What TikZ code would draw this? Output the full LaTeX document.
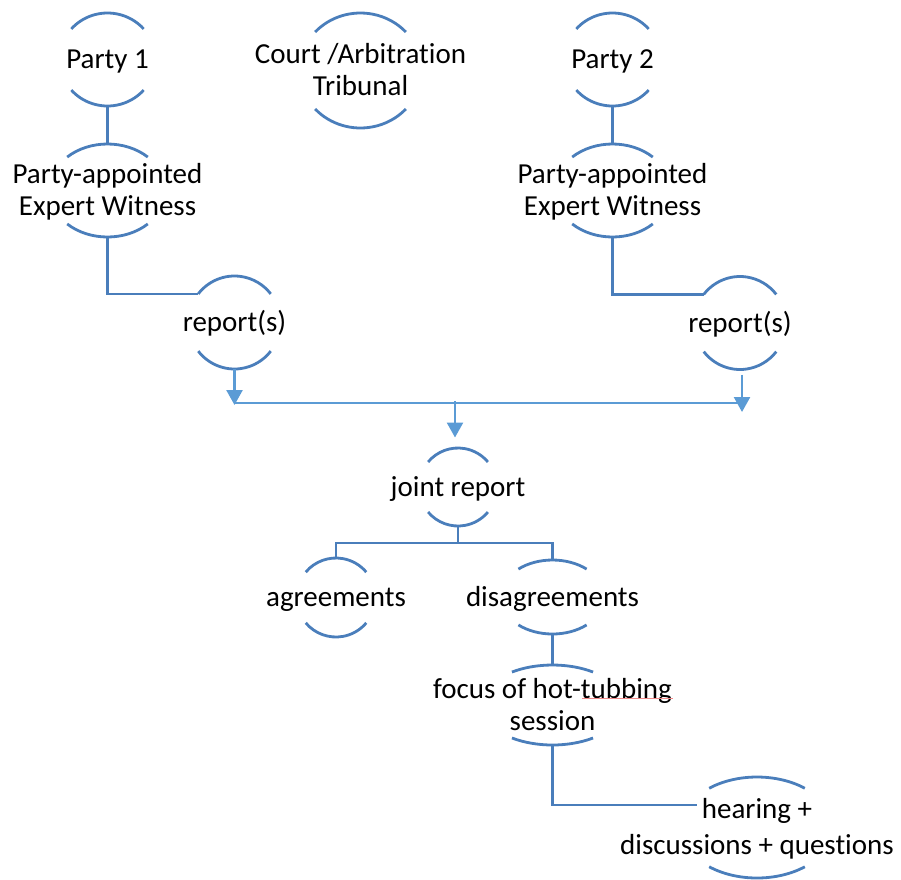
\documentclass[tikz,border=0pt]{standalone}
\usepackage{fontspec}
\setmainfont{Carlito}[Ligatures=NoCommon]
\usetikzlibrary{arrows.meta}
\definecolor{arcblue}{HTML}{4A7EBB}
\definecolor{flowblue}{HTML}{5B9BD5}
\definecolor{spellred}{HTML}{F08A8A}
% strut with height 24.5pt and depth 6pt, so the cap height sits centred on the node
\newcommand\lstrut{\rule[-6pt]{0pt}{30.5pt}}
\tikzset{
  hubtext/.style={inner sep=0pt, align=center, font=\fontsize{29}{32}\selectfont},
  hubarc/.style={draw=arcblue, line width=2.8pt},
  link/.style={draw=arcblue, line width=2.6pt},
  flow/.style={draw=flowblue, line width=2.5pt, -{Triangle[width=16pt,length=15pt]}},
  bus/.style={draw=flowblue, line width=1.6pt},
}
% [#1 text options] #2 name, #3 x, #4 y (downwards), #5 x radius, #6 y radius,
% #7 half opening angle of the arcs, #8 text
\newcommand\hubnode[8][]{%
  \node[hubtext,#1] (#2) at (#3,-#4) {#8};
  \coordinate (#2-top) at (#3,{-#4+#6});
  \coordinate (#2-bot) at (#3,{-#4-#6});
  \coordinate (#2-tl) at ({#3-#5*cos(#7)},{-#4+#6*sin(#7)});
  \draw[hubarc] (#2-tl) arc[start angle={180-#7}, end angle={#7}, x radius=#5, y radius=#6];
  \draw[hubarc] ({#3-#5*cos(#7)},{-#4-#6*sin(#7)}) arc[start angle={180+#7}, end angle={360-#7}, x radius=#5, y radius=#6];
}
\begin{document}
\begin{tikzpicture}[x=1pt,y=1pt]
  \useasboundingbox (0,0) rectangle (901,-879);

  % parties, tribunal and experts
  \hubnode{p1}{107.5}{59.5}{48}{46.5}{41}{\lstrut Party 1}
  \hubnode{court}{360.5}{70.5}{61}{57.5}{42}{\lstrut Court /Arbitration\\\lstrut Tribunal}
  \hubnode{p2}{612.5}{59.5}{48}{46.5}{41}{\lstrut Party 2}
  \hubnode{ew1}{107.5}{190.5}{58}{46.5}{46}{\lstrut Party-appointed\\\lstrut Expert Witness}
  \hubnode{ew2}{612.5}{190.5}{58}{46.5}{46}{\lstrut Party-appointed\\\lstrut Expert Witness}

  % reports
  \hubnode{rep1}{234.5}{322.5}{46}{46.5}{38}{\lstrut report(s)}
  \hubnode{rep2}{740}{323}{46}{46.5}{38}{\lstrut report(s)}

  % joint report and its outcome
  \hubnode{joint}{458}{487}{39}{39}{40}{\lstrut joint report}
  \hubnode{agr}{336}{597.5}{39.5}{39.5}{40}{\lstrut agreements}
  \hubnode{dis}{552.5}{597}{52}{37}{49}{\lstrut disagreements}
  \hubnode{focus}{552.5}{705}{71.6}{40}{55.5}{\lstrut focus of hot-tubbing\\\lstrut session}
  \hubnode[font=\fontsize{29}{36}\selectfont]{hear}{757}{827.5}{76}{50.5}{51}{\lstrut hearing +\\\lstrut discussions + questions}

  % tree connectors
  \draw[link] (p1-bot) -- (ew1-top);
  \draw[link] (p2-bot) -- (ew2-top);
  \draw[link] (ew1-bot) |- (rep1-tl);
  \draw[link] (ew2-bot) |- (rep2-tl);

  % reports flowing into the joint report
  \coordinate (busL) at (234.5,-405);
  \coordinate (busR) at (742,-412);
  \coordinate (busM) at (455,-401);
  \coordinate (jointin) at (455,-437.5);
  \draw[bus] (234.5,-403) -- (742,-403);
  \draw[flow] (rep1-bot) -- (busL);
  \draw[flow] ([yshift=-5pt]rep2-bot -| busR) -- (busR);
  \draw[flow] (busM) -- (jointin);

  % split into agreements and disagreements
  \coordinate (jfork) at (458,-543);
  \draw[link] (joint-bot) -- (jfork) -| (agr-top);
  \draw[link] (jfork) -| (dis-top);
  \draw[link] (dis-bot) -- (focus-top);

  % on to the hearing
  \coordinate (hearin) at (697,-805);
  \draw[link] (focus-bot) |- (hearin);

  % spelling mark under "tubbing"
  \draw[spellred, line width=1pt] (582,-698.5) -- (673,-698.5);
\end{tikzpicture}
\end{document}
